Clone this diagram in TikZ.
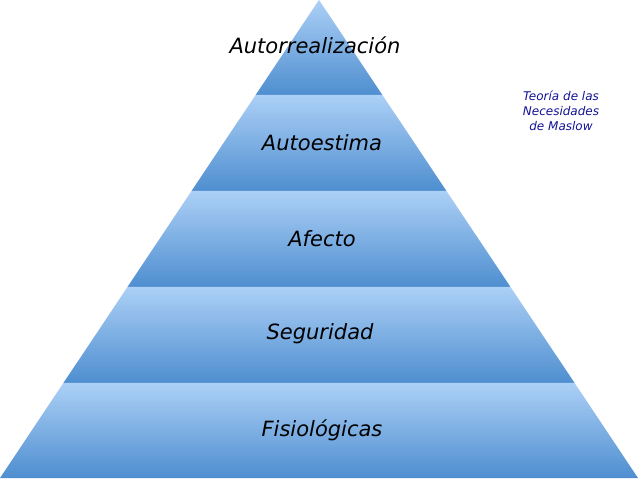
\documentclass[tikz,border=0pt]{standalone}
\usepackage{fontspec}
\setmainfont{DejaVu Sans}
\definecolor{bandtop}{RGB}{172,208,246}
\definecolor{bandbot}{RGB}{78,142,208}
\definecolor{titleblue}{RGB}{20,20,150}
\begin{document}
\begin{tikzpicture}[x=1pt,y=1pt,
  lab/.style={font=\itshape\fontsize{21}{21}\selectfont,text=black},
  band/.style={top color=bandtop,bottom color=bandbot,draw=none}]
\useasboundingbox (0,0) rectangle (638,480);
\fill[white] (0,0) rectangle (638,480);
\foreach \a/\b in {0/95,95/191,191/287,287/383,383/478}{
  \pgfmathsetmacro{\wa}{0.66736*\a}
  \pgfmathsetmacro{\wb}{0.66736*\b}
  \pgfmathsetmacro{\la}{319-\wa}
  \pgfmathsetmacro{\ra}{319+\wa}
  \pgfmathsetmacro{\lb}{319-\wb}
  \pgfmathsetmacro{\rb}{319+\wb}
  \pgfmathsetmacro{\ya}{480-\a}
  \pgfmathsetmacro{\yb}{480-\b}
  \shade[band] (\la,\ya) -- (\ra,\ya) -- (\rb,\yb) -- (\lb,\yb) -- cycle;
}
\node[lab] (l1) at (315,435) {Autorrealización};
\node[lab] (l2) at (322,337) {Autoestima};
\node[lab] (l3) at (322,241) {Afecto};
\node[lab] (l4) at (320,146) {Seguridad};
\node[lab] (l5) at (322,50) {Fisiológicas};
\node[font=\itshape\fontsize{12}{15}\selectfont,text=titleblue,align=center] (t) at (561,369) {Teoría de las\\Necesidades\\de Maslow};
\end{tikzpicture}
\end{document}
